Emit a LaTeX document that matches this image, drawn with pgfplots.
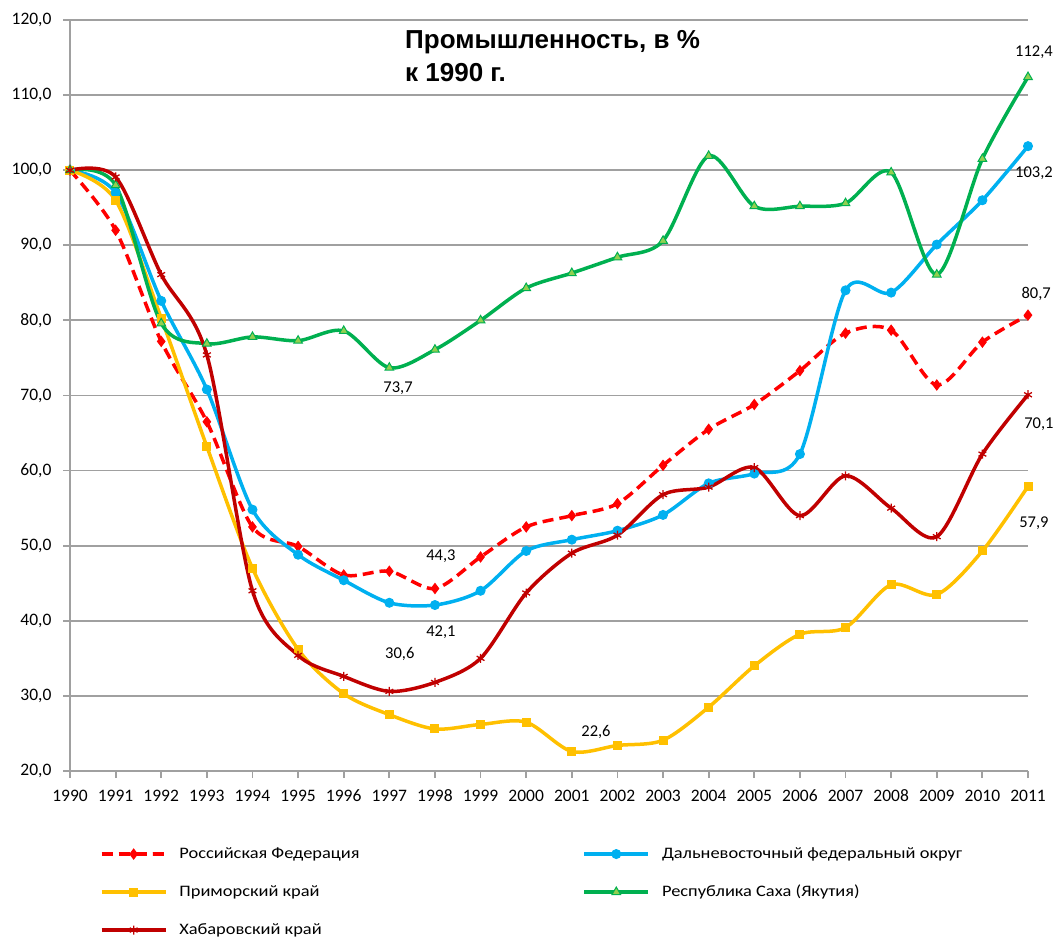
\documentclass[border=0pt]{standalone}
\usepackage{pgfplots}
\usepackage{pgfplotstable}
\pgfplotsset{compat=1.18}
\usepackage{fontspec}
\setmainfont{Carlito}[Numbers=Lining]
\newfontfamily\titlefont{Liberation Sans}
\newfontfamily\legendfont{Carlito}[FakeStretch=1.15, Numbers=Lining]

\definecolor{rfred}{RGB}{255,0,0}
\definecolor{dvblue}{RGB}{0,176,240}
\definecolor{primyel}{RGB}{255,192,0}
\definecolor{sakhagreen}{RGB}{0,176,80}
\definecolor{sakhafill}{RGB}{146,208,80}
\definecolor{khabred}{RGB}{192,0,0}
\definecolor{gridgray}{RGB}{160,160,160}

\pgfplotstableread{
year val
1990 100
1991 92.0
1992 77.2
1993 66.5
1994 52.5
1995 49.9
1996 46.1
1997 46.6
1998 44.3
1999 48.5
2000 52.5
2001 54.0
2002 55.6
2003 60.7
2004 65.5
2005 68.8
2006 73.3
2007 78.3
2008 78.7
2009 71.4
2010 77.1
2011 80.7
}\rf

\pgfplotstableread{
year val
1990 100
1991 97.0
1992 82.6
1993 70.8
1994 54.8
1995 48.8
1996 45.4
1997 42.4
1998 42.1
1999 44.0
2000 49.3
2001 50.8
2002 52.0
2003 54.1
2004 58.3
2005 59.6
2006 62.2
2007 84.0
2008 83.7
2009 90.1
2010 96.0
2011 103.2
}\dv

\pgfplotstableread{
year val
1990 100
1991 96.0
1992 80.3
1993 63.2
1994 47.0
1995 36.2
1996 30.3
1997 27.5
1998 25.6
1999 26.2
2000 26.5
2001 22.6
2002 23.4
2003 24.1
2004 28.5
2005 34.0
2006 38.2
2007 39.1
2008 44.8
2009 43.5
2010 49.3
2011 57.9
}\prim

\pgfplotstableread{
year val
1990 100
1991 98.0
1992 79.6
1993 76.9
1994 77.8
1995 77.3
1996 78.6
1997 73.7
1998 76.1
1999 80.0
2000 84.3
2001 86.3
2002 88.4
2003 90.6
2004 101.9
2005 95.2
2006 95.2
2007 95.6
2008 99.7
2009 86.1
2010 101.5
2011 112.4
}\sakha

\pgfplotstableread{
year val
1990 100
1991 99.1
1992 86.1
1993 75.4
1994 44.0
1995 35.4
1996 32.6
1997 30.6
1998 31.8
1999 35.0
2000 43.7
2001 49.0
2002 51.4
2003 56.8
2004 57.8
2005 60.4
2006 54.0
2007 59.3
2008 55.0
2009 51.2
2010 62.2
2011 70.1
}\khab

\begin{document}
\begin{tikzpicture}
\begin{axis}[
  at={(0pt,0pt)}, anchor=south west,
  scale only axis, width=958pt, height=751pt,
  xmin=1990, xmax=2011, ymin=20, ymax=120,
  xtick={1990,1991,...,2011}, ytick={20,30,...,120},
  axis x line*=bottom, axis y line*=left,
  ymajorgrids,
  grid style={draw=gridgray, line width=1.8pt},
  axis line style={draw=gridgray, line width=1.8pt},
  tick style={draw=gridgray, line width=1.8pt},
  tick align=outside, major tick length=7pt,
  /pgf/number format/assume math mode=true,
  xticklabel style={text height=12pt, text depth=0pt, yshift=-8pt, /pgf/number format/1000 sep={}},
  yticklabel style={xshift=-8pt, /pgf/number format/.cd, fixed, fixed zerofill, precision=1, use comma},
  tick label style={font=\fontsize{17.5}{20}\selectfont},
  clip=false,
  legend columns=2,
  legend cell align=left,
  legend image code/.code={\draw[mark repeat=2,mark phase=2,#1] plot coordinates {(0pt,0pt) (32pt,0pt) (64pt,0pt)};},
  legend style={draw=none, fill=none, at={(0.031,-0.101)}, anchor=north west, inner sep=0pt,
    font=\legendfont\fontsize{16}{19}\selectfont, row sep=24pt,
    nodes={inner sep=0pt, text height=11pt, text depth=3pt},
    /tikz/every odd column/.append style={column sep=12pt},
    /tikz/every even column/.append style={column sep=223pt}},
]
\addplot[smooth, rfred, line width=3.5pt, dash pattern=on 11pt off 6pt, mark=diamond*, mark size=5pt, mark options={solid, fill=rfred, line width=1pt}] table[x=year,y=val] {\rf};
\addlegendentry{Российская Федерация}
\addplot[smooth, dvblue, line width=3.5pt, mark=*, mark size=4.5pt, mark options={solid, fill=dvblue, line width=1pt}] table[x=year,y=val] {\dv};
\addlegendentry{Дальневосточный федеральный округ}
\addplot[smooth, primyel, line width=3.5pt, mark=square*, mark size=4pt, mark options={solid, fill=primyel, line width=1pt}] table[x=year,y=val] {\prim};
\addlegendentry{Приморский край}
\addplot[smooth, sakhagreen, line width=3.5pt, mark=triangle*, mark size=5pt, mark options={solid, fill=sakhafill, draw=sakhagreen, line width=1pt}] table[x=year,y=val] {\sakha};
\addlegendentry{Республика Саха (Якутия)}
\addplot[smooth, khabred, line width=3.5pt, mark=asterisk, mark size=4.5pt, mark options={solid, line width=1.3pt}] table[x=year,y=val] {\khab};
\addlegendentry{Хабаровский край}

\node[anchor=north west, align=left, inner sep=0pt, font=\titlefont\bfseries\fontsize{26}{33}\selectfont] at (rel axis cs:0.3497,0.987) {Промышленность, в \%\\к 1990 г.};

\begin{scope}[every node/.style={font=\fontsize{16.5}{19}\selectfont, inner sep=0pt}]
\node at (axis cs:1997.19,71.0) {73,7};
\node at (axis cs:1998.13,48.63) {44,3};
\node at (axis cs:1998.13,38.5) {42,1};
\node at (axis cs:1997.23,35.58) {30,6};
\node at (axis cs:2001.53,25.19) {22,6};
\node at (axis cs:2011.13,115.74) {112,4};
\node at (axis cs:2011.13,99.63) {103,2};
\node at (axis cs:2011.18,83.52) {80,7};
\node at (axis cs:2011.24,66.2) {70,1};
\node at (axis cs:2011.13,53.02) {57,9};
\end{scope}
\end{axis}
\pgfresetboundingbox
\path (-70pt,-171pt) rectangle (987pt,771pt);
\end{tikzpicture}
\end{document}
